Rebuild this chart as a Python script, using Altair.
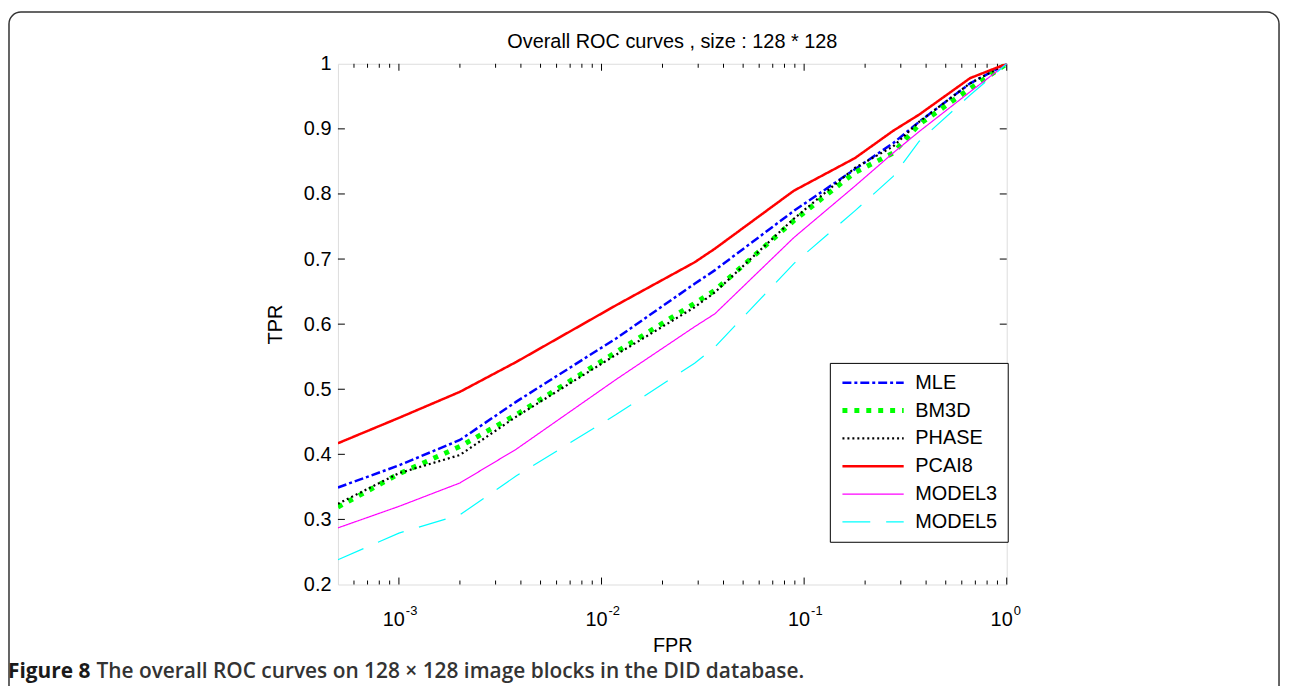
import altair as alt
import pandas as pd

# ---------------- data ----------------
series = ["MLE", "BM3D", "PHASE", "PCAI8", "MODEL3", "MODEL5"]
colors = ["#0000ff", "#00ff00", "#000000", "#ff0000", "#ff00ff", "#00ffff"]
dashes = [[9, 3, 3, 3], [5, 7], [2, 3], [1, 0], [1, 0], [28, 16]]
widths = [2.5, 5, 2.2, 2.5, 1.2, 1.2]

fpr = [5e-4, 1e-3, 2e-3, 3.8e-3, 0.0118, 0.0288, 0.0363, 0.089, 0.178, 0.275, 0.37, 0.66, 1.0]
tpr_mle    = [0.349, 0.383, 0.422, 0.481, 0.578, 0.662, 0.683, 0.774, 0.838, 0.878, 0.911, 0.970, 1.0]
tpr_bm3d   = [0.319, 0.370, 0.412, 0.461, 0.557, 0.632, 0.652, 0.759, 0.833, 0.863, 0.907, 0.962, 1.0]
tpr_phase  = [0.324, 0.371, 0.399, 0.458, 0.553, 0.626, 0.649, 0.762, 0.840, 0.873, 0.911, 0.970, 1.0]
tpr_pcai8  = [0.417, 0.456, 0.496, 0.542, 0.629, 0.695, 0.716, 0.805, 0.855, 0.897, 0.922, 0.978, 1.0]
tpr_model3 = [0.287, 0.320, 0.356, 0.408, 0.515, 0.596, 0.616, 0.733, 0.812, 0.863, 0.896, 0.957, 1.0]
tpr_model5 = [0.238, 0.279, 0.307, 0.367, 0.461, 0.540, 0.565, 0.693, 0.774, 0.827, 0.881, 0.952, 1.0]

y_ticks = [0.2, 0.3, 0.4, 0.5, 0.6, 0.7, 0.8, 0.9, 1.0]
x_major = [1e-3, 1e-2, 1e-1, 1.0]
x_major_exp = ["-3", "-2", "-1", "0"]
x_minor = [6e-4, 7e-4, 8e-4, 9e-4,
           2e-3, 3e-3, 4e-3, 5e-3, 6e-3, 7e-3, 8e-3, 9e-3,
           2e-2, 3e-2, 4e-2, 5e-2, 6e-2, 7e-2, 8e-2, 9e-2,
           2e-1, 3e-1, 4e-1, 5e-1, 6e-1, 7e-1, 8e-1, 9e-1]

title_text = "Overall ROC curves , size : 128 * 128"
caption_bold = "Figure 8"
caption_rest = "The overall ROC curves on 128 × 128 image blocks in the DID database."

# ---------------- tables ----------------
all_tpr = [tpr_mle, tpr_bm3d, tpr_phase, tpr_pcai8, tpr_model3, tpr_model5]
rows = []
for s, vals in zip(series, all_tpr):
    for f, t in zip(fpr, vals):
        rows.append({"series": s, "fpr": f, "tpr": t})
df = pd.DataFrame(rows)

W, H = 673, 524
FONT = "Liberation Sans"

xscale = alt.Scale(type="log", domain=[5e-4, 1], nice=False)
yscale = alt.Scale(domain=[0.2, 1.0], nice=False, zero=False)

xaxis = alt.Axis(title="FPR", labels=False, ticks=False, domain=False, grid=False,
                 titlePadding=51, titleFontSize=20, titleFont=FONT, zindex=3,
                 titleFontWeight="normal", titleColor="black")
yaxis = alt.Axis(values=y_ticks, ticks=False, domain=False, grid=False, zindex=3,
                 labelExpr="datum.value == 1 ? '1' : format(datum.value, '.1f')",
                 labelFontSize=20, labelFont=FONT, labelColor="black", labelPadding=7,
                 title="TPR", titleFontSize=20, titleFont=FONT,
                 titleFontWeight="normal", titleColor="black", titlePadding=18)

leg = alt.Legend(
    title=None, orient="none", legendX=495, legendY=301,
    symbolType="stroke", symbolSize=3800, clipHeight=20, rowPadding=8,
    labelFontSize=20, labelFont=FONT, labelColor="black", labelOffset=9,
    strokeColor="black", fillColor="white", padding=10,
)

lines = alt.Chart(df).mark_line(strokeCap="butt", clip=True).encode(
    x=alt.X("fpr:Q", scale=xscale, axis=xaxis),
    y=alt.Y("tpr:Q", scale=yscale, axis=yaxis),
    color=alt.Color("series:N", scale=alt.Scale(domain=series, range=colors), legend=leg),
    strokeDash=alt.StrokeDash("series:N", scale=alt.Scale(domain=series, range=dashes), legend=leg),
    strokeWidth=alt.StrokeWidth("series:N",
                                scale=alt.Scale(type="ordinal", domain=series, range=widths),
                                legend=leg),
    order=alt.Order("fpr:Q"),
)

xmaj_df = pd.DataFrame({"v": x_major, "e": x_major_exp, "b": ["10"] * len(x_major)})
xmin_df = pd.DataFrame({"v": x_minor})
y_df = pd.DataFrame({"v": y_ticks[1:-1]})

def xt(d, y0, y1):
    return alt.Chart(d).mark_rule(color="black", strokeWidth=1).encode(
        x=alt.X("v:Q", scale=xscale, axis=xaxis),
        y=alt.value(y0), y2=alt.value(y1))

def yt(x0, x1):
    return alt.Chart(y_df).mark_rule(color="black", strokeWidth=1).encode(
        y=alt.Y("v:Q", scale=yscale, axis=yaxis),
        x=alt.value(x0), x2=alt.value(x1))

ticks = [xt(xmaj_df, H, H - 7), xt(xmaj_df, 0, 7),
         xt(xmin_df, H, H - 4), xt(xmin_df, 0, 4),
         yt(0, 7), yt(W - 7, W)]

lab10 = alt.Chart(xmaj_df).mark_text(align="right", baseline="alphabetic", dx=6,
                                     fontSize=20, font=FONT, color="black").encode(
    x=alt.X("v:Q", scale=xscale, axis=xaxis), y=alt.value(H + 42), text="b:N")
labexp = alt.Chart(xmaj_df).mark_text(align="left", baseline="alphabetic", dx=7,
                                      fontSize=13, font=FONT, color="black").encode(
    x=alt.X("v:Q", scale=xscale, axis=xaxis), y=alt.value(H + 31), text="e:N")

one = pd.DataFrame({"a": [caption_bold], "b": [caption_rest], "t": [title_text]})

title = alt.Chart(one).mark_text(align="center", baseline="alphabetic", fontSize=20,
                                 font=FONT, color="black").encode(
    x=alt.value(W / 2), y=alt.value(-16), text="t:N")

cap1 = alt.Chart(one).mark_text(align="left", baseline="alphabetic", fontSize=21,
                                font="Open Sans", fontWeight="bold", color="#1a1a1a").encode(
    x=alt.value(-332), y=alt.value(H + 94), text="a:N")
cap2 = alt.Chart(one).mark_text(align="left", baseline="alphabetic", fontSize=21,
                                font="Open Sans", fontWeight=600, color="#333").encode(
    x=alt.value(-243), y=alt.value(H + 94), text="b:N")

frame = alt.Chart(one).mark_rect(filled=False, fillOpacity=0, stroke="#333", strokeWidth=1.5,
                                 cornerRadius=12).encode(
    x=alt.value(-331), x2=alt.value(947), y=alt.value(-52), y2=alt.value(660))

chart = alt.layer(frame, *ticks, lines, lab10, labexp, title, cap1, cap2).properties(
    width=W, height=H,
    padding={"left": 332, "top": 54, "right": 277, "bottom": 100},
    autosize=alt.AutoSizeParams(type="none"),
).configure_view(stroke="black", strokeWidth=1.2).configure(background="white")

chart.save("out.html", embed_options={"renderer": "svg", "actions": False})
